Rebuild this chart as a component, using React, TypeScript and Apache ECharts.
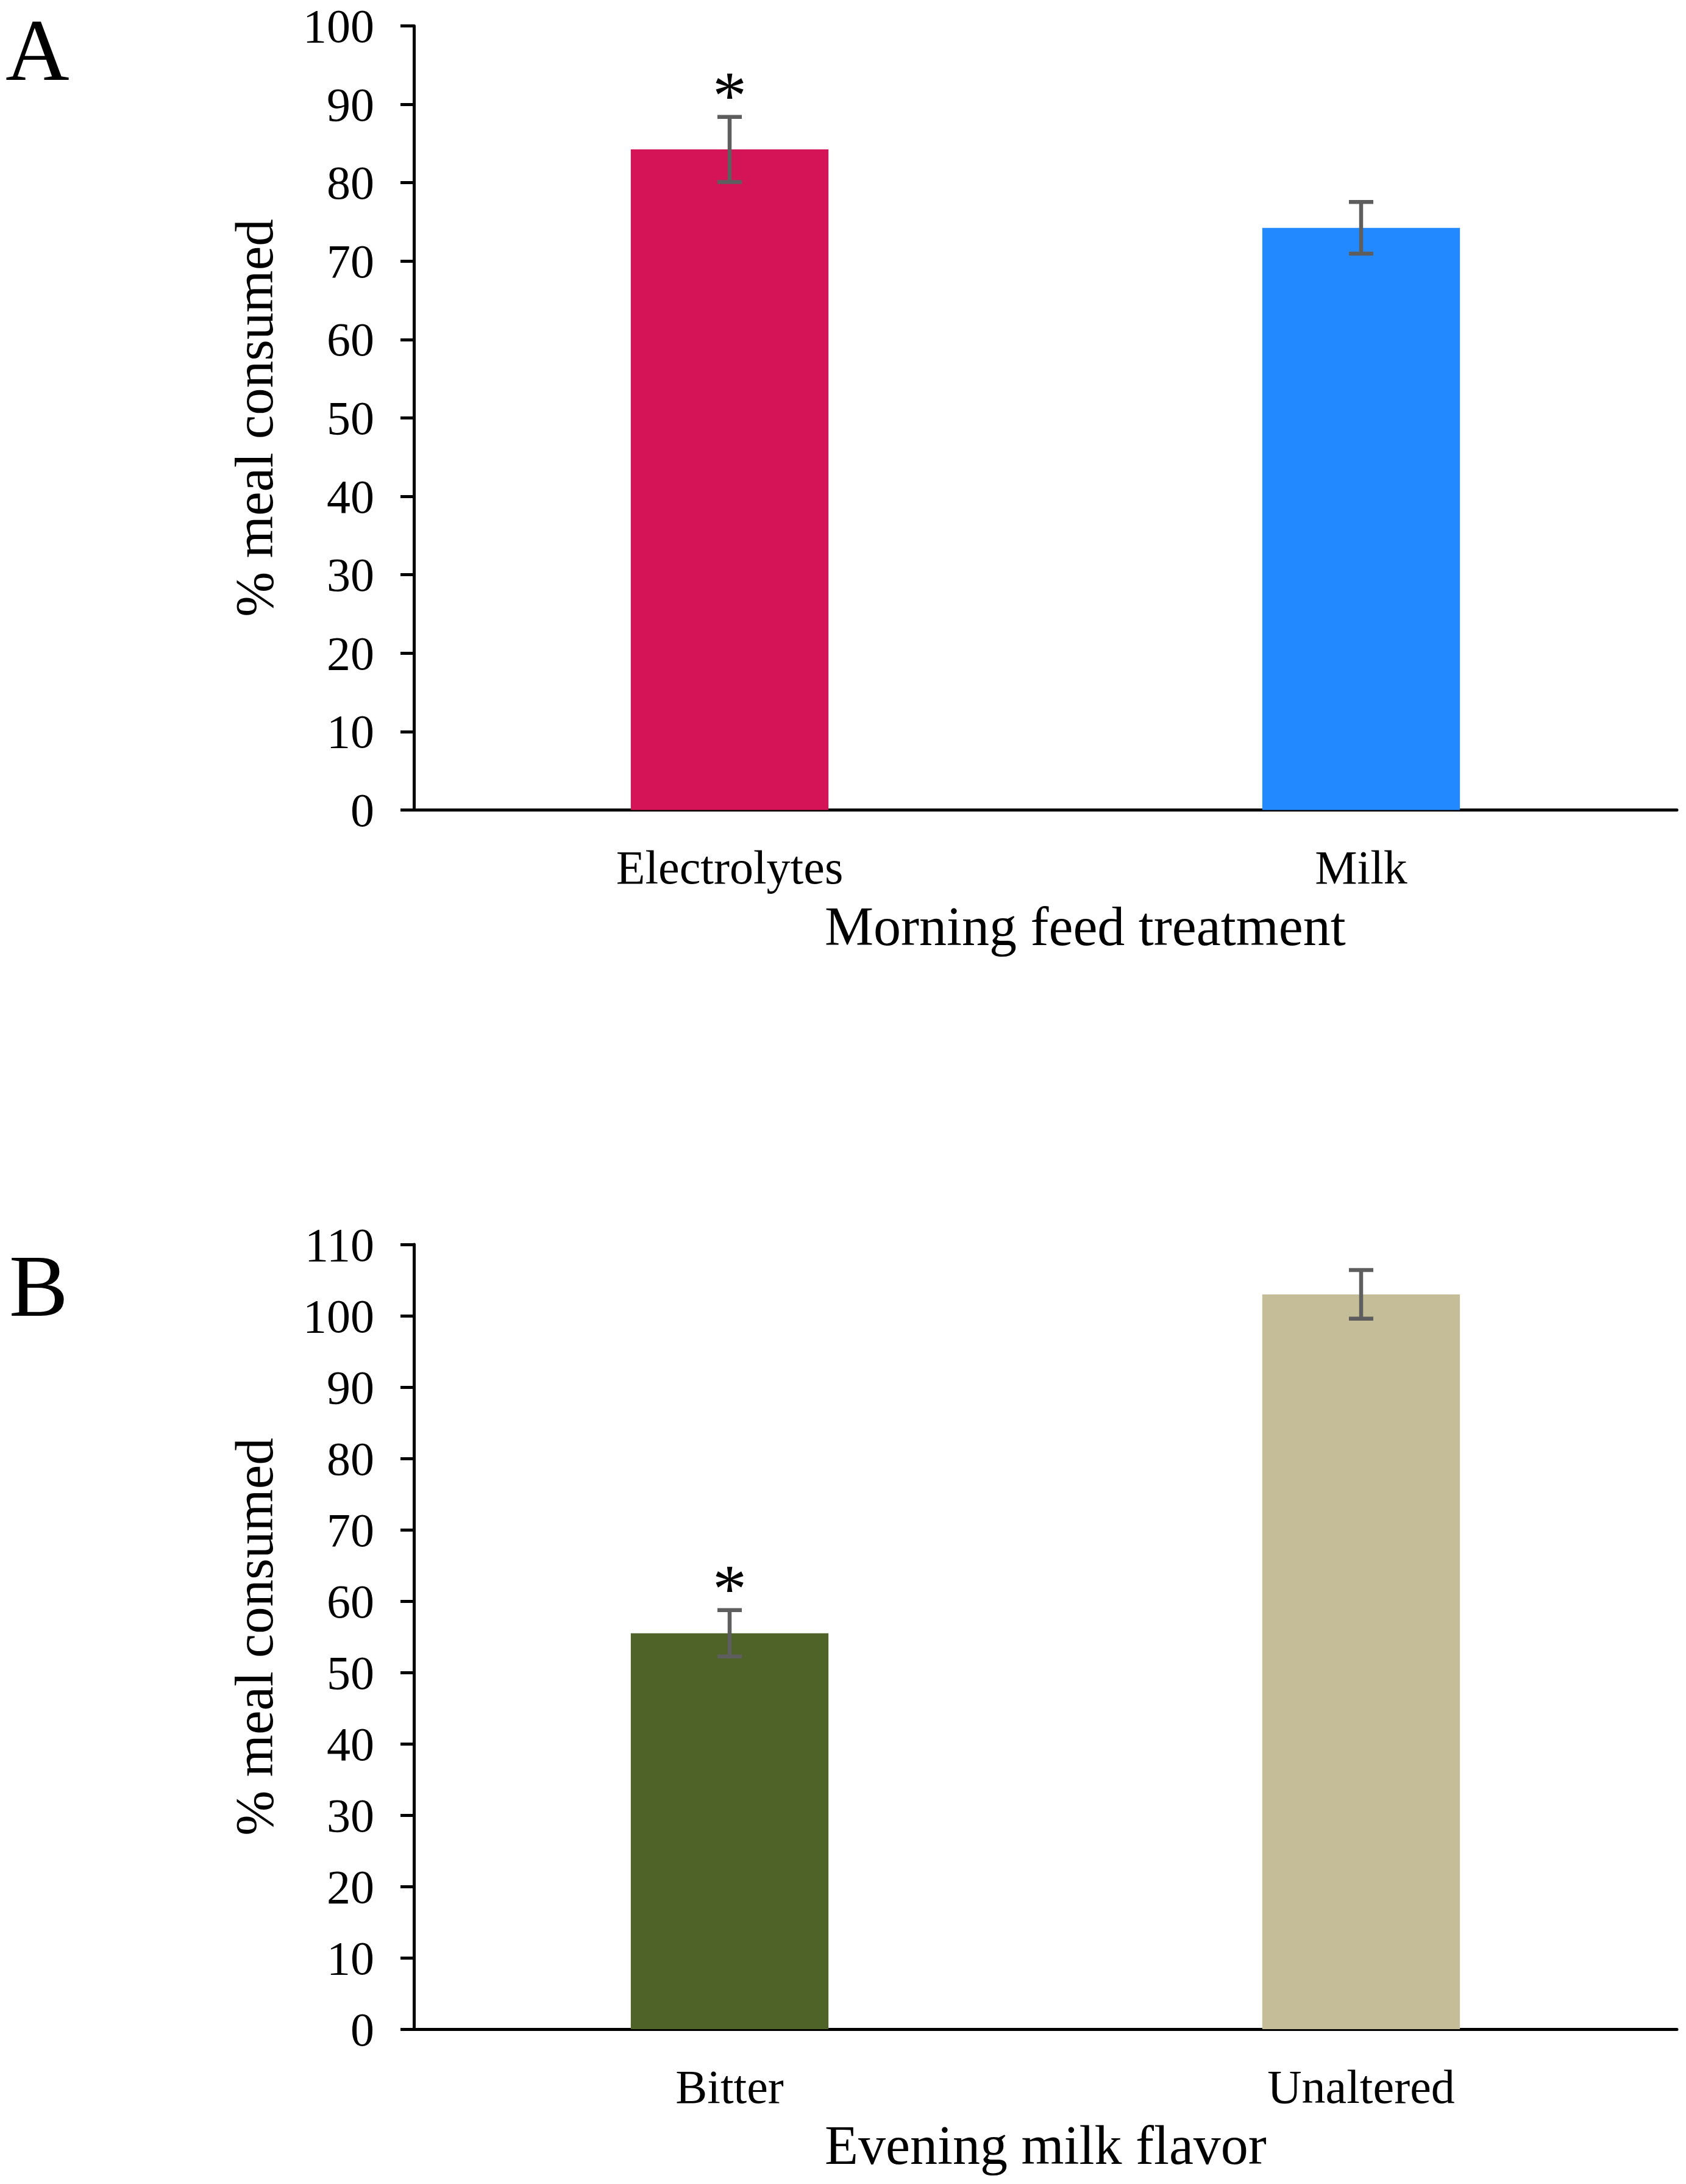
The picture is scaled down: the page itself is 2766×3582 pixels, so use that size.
import { useRef, useEffect } from 'react'
import * as echarts from 'echarts'

// ── 数据 ─────────────────────────────────────────
const morningCategories = ['Electrolytes', 'Milk']
const morningValues = [84.25, 74.25]
const morningErrors = [4.15, 3.3]
const morningSig = [true, false]
const morningColors = ['#D41457', '#2389FF']

const eveningCategories = ['Bitter', 'Unaltered']
const eveningValues = [55.5, 103.0]
const eveningErrors = [3.25, 3.4]
const eveningSig = [true, false]
const eveningColors = ['#4F6228', '#C4BD97']

const morningTicks = { min: 0, max: 100, interval: 10 }
const eveningTicks = { min: 0, max: 110, interval: 10 }

const FONT = '"Liberation Serif", "Times New Roman", serif'
const ERR_COLOR = '#5E5E5E'
const STAR_SIZE = 112
const W = 2766
const H = 3582

// 误差线 + 显著性星号（custom series）
function errorSeries(gridIndex: number, values: number[], errors: number[], sig: boolean[]) {
  return {
    type: 'custom',
    xAxisIndex: gridIndex,
    yAxisIndex: gridIndex,
    silent: true,
    z: 5,
    data: values.map((v, i) => [i, v, errors[i], sig[i] ? 1 : 0]),
    renderItem: (_params: unknown, api: any) => {
      const idx = api.value(0)
      const v = api.value(1)
      const e = api.value(2)
      const star = api.value(3)
      const top = api.coord([idx, v + e])
      const bot = api.coord([idx, v - e])
      const half = 20
      const ls = { stroke: ERR_COLOR, lineWidth: 6.5 }
      const children: any[] = [
        { type: 'line', shape: { x1: top[0], y1: top[1], x2: bot[0], y2: bot[1] }, style: ls },
        { type: 'line', shape: { x1: top[0] - half, y1: top[1], x2: top[0] + half, y2: top[1] }, style: ls },
        { type: 'line', shape: { x1: bot[0] - half, y1: bot[1], x2: bot[0] + half, y2: bot[1] }, style: ls },
      ]
      if (star) {
        children.push({
          type: 'text',
          x: top[0],
          y: top[1] + 2 - 0.3375 * STAR_SIZE,
          style: {
            text: '*',
            font: `${STAR_SIZE}px ${FONT}`,
            fill: '#000',
            align: 'center',
            verticalAlign: 'middle',
            textAlign: 'center',
            textVerticalAlign: 'middle',
          },
        })
      }
      return { type: 'group', children }
    },
  }
}

function xAxisCfg(gridIndex: number, cats: string[]) {
  return {
    type: 'category',
    gridIndex,
    data: cats,
    axisLine: { show: true, lineStyle: { color: '#000', width: 5 } },
    axisTick: { show: false },
    axisLabel: { fontSize: 78, fontFamily: FONT, color: '#000', margin: 55 },
    splitLine: { show: false },
  }
}

function yAxisCfg(gridIndex: number, ticks: { min: number; max: number; interval: number }) {
  return {
    type: 'value',
    gridIndex,
    min: ticks.min,
    max: ticks.max,
    interval: ticks.interval,
    name: '% meal consumed',
    nameLocation: 'middle',
    nameGap: 218,
    nameRotate: 90,
    nameTextStyle: { fontSize: 89, fontFamily: FONT, color: '#000' },
    axisLine: { show: true, lineStyle: { color: '#000', width: 5 } },
    axisTick: { show: true, inside: false, length: 22, lineStyle: { color: '#000', width: 5 } },
    axisLabel: { fontSize: 78, fontFamily: FONT, color: '#000', margin: 65 },
    splitLine: { show: false },
  }
}

function textEl(text: string, x: number, baseline: number, size: number) {
  return {
    type: 'text',
    x,
    y: baseline - 0.3375 * size,
    style: {
      text,
      font: `${size}px ${FONT}`,
      fill: '#000',
      align: 'left',
      verticalAlign: 'middle',
      textAlign: 'left',
      textVerticalAlign: 'middle',
    },
  }
}

function buildOption() {
  return {
    animation: false,
    backgroundColor: '#fff',
    grid: [
      { left: 679, top: 42.5, width: 2072, height: 1286 },
      { left: 679, top: 2041, width: 2072, height: 1287 },
    ],
    xAxis: [xAxisCfg(0, morningCategories), xAxisCfg(1, eveningCategories)],
    yAxis: [yAxisCfg(0, morningTicks), yAxisCfg(1, eveningTicks)],
    series: [
      {
        type: 'bar',
        xAxisIndex: 0,
        yAxisIndex: 0,
        barWidth: '31.3%',
        data: morningValues.map((v, i) => ({ value: v, itemStyle: { color: morningColors[i] } })),
      },
      errorSeries(0, morningValues, morningErrors, morningSig),
      {
        type: 'bar',
        xAxisIndex: 1,
        yAxisIndex: 1,
        barWidth: '31.3%',
        data: eveningValues.map((v, i) => ({ value: v, itemStyle: { color: eveningColors[i] } })),
      },
      errorSeries(1, eveningValues, eveningErrors, eveningSig),
    ],
    graphic: [
      textEl('A', 9, 131, 145),
      textEl('B', 15, 2158, 145),
      textEl('Morning feed treatment', 1353, 1550, 90),
      textEl('Evening milk flavor', 1353, 3549, 90),
    ],
  }
}

export default function App() {
  const ref = useRef<HTMLDivElement>(null)

  useEffect(() => {
    document.body.style.margin = '0'
    if (!ref.current) return
    const chart = echarts.init(ref.current, null, { renderer: 'svg' })
    chart.setOption(buildOption() as any)
    return () => {
      chart.dispose()
    }
  }, [])

  return <div ref={ref} style={{ width: W, height: H, background: '#fff' }} />
}
